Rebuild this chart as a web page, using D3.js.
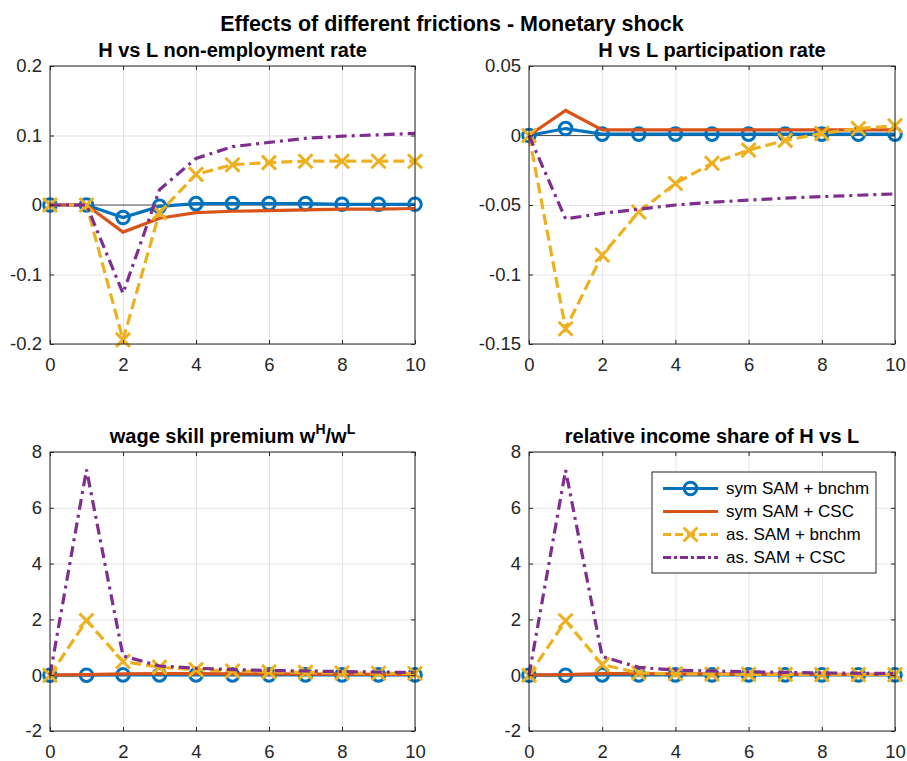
<!DOCTYPE html>
<html>
<head>
<meta charset="utf-8">
<script src="https://cdn.jsdelivr.net/npm/d3@7"></script>
<style>
body { margin: 0; background: #fff; }
svg text { font-family: "Liberation Sans", Arial, Helvetica, sans-serif; }
</style>
</head>
<body>
<script>
// horizon (quarters)
var periods = [0, 1, 2, 3, 4, 5, 6, 7, 8, 9, 10];
var xTicks = [0, 2, 4, 6, 8, 10];

var seriesNames = ["sym SAM + bnchm", "sym SAM + CSC", "as. SAM + bnchm", "as. SAM + CSC"];

// H vs L non-employment rate
var nonEmpSymBnchm = [0, 0, -0.018, -0.002, 0.002, 0.002, 0.002, 0.002, 0.001, 0.001, 0.001];
var nonEmpSymCsc   = [0, 0, -0.039, -0.019, -0.011, -0.009, -0.008, -0.007, -0.006, -0.006, -0.005];
var nonEmpAsBnchm  = [0, 0, -0.194, -0.011, 0.044, 0.058, 0.061, 0.063, 0.063, 0.063, 0.063];
var nonEmpAsCsc    = [0, 0, -0.127, 0.022, 0.067, 0.084, 0.090, 0.096, 0.099, 0.101, 0.103];
var nonEmpTicks = [-0.2, -0.1, 0, 0.1, 0.2];

// H vs L participation rate
var partSymBnchm = [0, 0.005, 0.001, 0.001, 0.001, 0.001, 0.001, 0.001, 0.001, 0.001, 0.001];
var partSymCsc   = [0, 0.018, 0.004, 0.004, 0.004, 0.004, 0.004, 0.004, 0.004, 0.004, 0.004];
var partAsBnchm  = [0, -0.139, -0.086, -0.055, -0.0345, -0.020, -0.0105, -0.0035, 0.0015, 0.005, 0.007];
var partAsCsc    = [0, -0.060, -0.056, -0.053, -0.050, -0.048, -0.0465, -0.045, -0.044, -0.043, -0.042];
var partTicks = [-0.15, -0.1, -0.05, 0, 0.05];

// wage skill premium wH/wL
var wageSymBnchm = [0, 0, 0.01, 0.01, 0.01, 0.01, 0.01, 0.01, 0.01, 0.01, 0.01];
var wageSymCsc   = [0, 0.02, 0.05, 0.06, 0.06, 0.05, 0.05, 0.04, 0.04, 0.03, 0.03];
var wageAsBnchm  = [0, 1.96, 0.49, 0.29, 0.2, 0.15, 0.12, 0.1, 0.08, 0.07, 0.06];
var wageAsCsc    = [0, 7.37, 0.69, 0.33, 0.25, 0.2, 0.17, 0.15, 0.13, 0.11, 0.1];
var wageTicks = [-2, 0, 2, 4, 6, 8];

// relative income share of H vs L
var incSymBnchm = [0, 0, 0.01, 0.01, 0.01, 0.01, 0.01, 0.01, 0.01, 0.01, 0.01];
var incSymCsc   = [0, 0.02, 0.06, 0.06, 0.05, 0.05, 0.04, 0.04, 0.03, 0.03, 0.03];
var incAsBnchm  = [0, 1.95, 0.38, 0.08, 0.05, 0.04, 0.03, 0.03, 0.02, 0.02, 0.02];
var incAsCsc    = [0, 7.35, 0.67, 0.28, 0.18, 0.15, 0.12, 0.1, 0.08, 0.07, 0.06];
var incTicks = [-2, 0, 2, 4, 6, 8];

// matlab default colour order + line specs ("-o", "-", "--x", "-.")
var styles = [
	{ color: "#0072BD", dash: null, marker: "o" },
	{ color: "#D95319", dash: null, marker: null },
	{ color: "#EDB120", dash: "11,5", marker: "x" },
	{ color: "#7E2F8E", dash: "11,5,3,5", marker: null }
];

var W = 907, H = 761;
var svg = d3.select("body").append("svg").attr("width", W).attr("height", H);

var panels = [
	{ title: ["H vs L non-employment rate"], box: [50, 415, 66, 344], ticks: nonEmpTicks,
	  data: [nonEmpSymBnchm, nonEmpSymCsc, nonEmpAsBnchm, nonEmpAsCsc], tb: 57 },
	{ title: ["H vs L participation rate"], box: [529, 895, 66, 344], ticks: partTicks,
	  data: [partSymBnchm, partSymCsc, partAsBnchm, partAsCsc], tb: 57 },
	{ title: ["wage skill premium w", "H", "/w", "L"], box: [50, 415, 452, 731], ticks: wageTicks,
	  data: [wageSymBnchm, wageSymCsc, wageAsBnchm, wageAsCsc], tb: 443 },
	{ title: ["relative income share of H vs L"], box: [529, 895, 452, 731], ticks: incTicks,
	  data: [incSymBnchm, incSymCsc, incAsBnchm, incAsCsc], tb: 443, legend: true }
];

function fmt(d) { return d === 0 ? "0" : String(+d.toFixed(3)); }

function drawMarker(g, type, x, y, color) {
	if (type === "o") {
		g.append("circle").attr("cx", x).attr("cy", y).attr("r", 6.3)
			.attr("fill", "none").attr("stroke", color).attr("stroke-width", 3);
	} else if (type === "x") {
		var s = 7;
		g.append("path").attr("d", "M" + (x - s) + "," + (y - s) + "L" + (x + s) + "," + (y + s) +
			"M" + (x - s) + "," + (y + s) + "L" + (x + s) + "," + (y - s))
			.attr("stroke", color).attr("stroke-width", 3).attr("fill", "none");
	}
}

panels.forEach(function(p) {
	var b = p.box;
	var x = d3.scaleLinear().domain([0, 10]).range([b[0], b[1]]);
	var y = d3.scaleLinear().domain([p.ticks[0], p.ticks[p.ticks.length - 1]]).range([b[3], b[2]]);
	var g = svg.append("g");
	var w = b[1] - b[0], h = b[3] - b[2];

	// grid
	g.append("g").attr("transform", "translate(0," + b[3] + ")")
		.call(d3.axisBottom(x).tickValues(xTicks).tickSize(-h).tickFormat(""))
		.call(function(a) { a.select(".domain").remove(); a.selectAll("line").attr("stroke", "#e3e3e3"); });
	g.append("g").attr("transform", "translate(" + b[0] + ",0)")
		.call(d3.axisLeft(y).tickValues(p.ticks).tickSize(-w).tickFormat(""))
		.call(function(a) { a.select(".domain").remove(); a.selectAll("line").attr("stroke", "#e3e3e3"); });

	// zero reference line
	g.append("line").attr("x1", x(0)).attr("x2", x(10)).attr("y1", y(0)).attr("y2", y(0))
		.attr("stroke", "#555").attr("stroke-width", 1.2);

	// series
	var line = d3.line().x(function(d, i) { return x(periods[i]); }).y(function(d) { return y(d); });
	p.data.forEach(function(vals, k) {
		var st = styles[k];
		g.append("path").attr("d", line(vals)).attr("fill", "none")
			.attr("stroke", st.color).attr("stroke-width", 3.2)
			.attr("stroke-dasharray", st.dash);
		if (st.marker) {
			vals.forEach(function(v, i) { drawMarker(g, st.marker, x(periods[i]), y(v), st.color); });
		}
	});

	// box + inward ticks on all sides
	g.append("rect").attr("x", b[0]).attr("y", b[2]).attr("width", w).attr("height", h)
		.attr("fill", "none").attr("stroke", "#262626").attr("stroke-width", 1);
	var axStyle = function(a) {
		a.select(".domain").remove();
		a.selectAll("line").attr("stroke", "#262626");
		a.selectAll("text").attr("fill", "#262626").style("font-size", "18.5px");
	};
	g.append("g").attr("transform", "translate(0," + b[3] + ")")
		.call(d3.axisBottom(x).tickValues(xTicks).tickSize(-4).tickPadding(14).tickFormat(fmt)).call(axStyle);
	g.append("g").attr("transform", "translate(0," + b[2] + ")")
		.call(d3.axisTop(x).tickValues(xTicks).tickSize(-4).tickFormat("")).call(axStyle);
	g.append("g").attr("transform", "translate(" + b[0] + ",0)")
		.call(d3.axisLeft(y).tickValues(p.ticks).tickSize(-4).tickPadding(8).tickFormat(fmt)).call(axStyle);
	g.append("g").attr("transform", "translate(" + b[1] + ",0)")
		.call(d3.axisRight(y).tickValues(p.ticks).tickSize(-4).tickFormat("")).call(axStyle);

	// title (with superscripts for the wage panel)
	var t = g.append("text").attr("x", (b[0] + b[1]) / 2).attr("y", p.tb)
		.attr("text-anchor", "middle").style("font-size", "20px").style("font-weight", "bold")
		.attr("fill", "#000");
	p.title.forEach(function(s, i) {
		var sp = t.append("tspan").text(s);
		if (i % 2 === 1) sp.attr("dy", -9).style("font-size", "14px");
		else if (i > 0) sp.attr("dy", 9);
	});

	if (p.legend) {
		var lg = svg.append("g");
		lg.append("rect").attr("x", 652).attr("y", 472).attr("width", 224).attr("height", 101)
			.attr("fill", "#fff").attr("stroke", "#262626").attr("stroke-width", 1);
		seriesNames.forEach(function(name, k) {
			var st = styles[k], yy = 488.5 + k * 23;
			lg.append("line").attr("x1", 663).attr("x2", 718).attr("y1", yy).attr("y2", yy)
				.attr("stroke", st.color).attr("stroke-width", 3.2)
				.attr("stroke-dasharray", st.dash ? (k === 2 ? "8,4" : "8,3,3,3") : null);
			if (st.marker) drawMarker(lg, st.marker, 690.5, yy, st.color);
			lg.append("text").attr("x", 726).attr("y", yy).attr("dy", "0.35em")
				.style("font-size", "17px").attr("fill", "#000").text(name);
		});
	}
});

svg.append("text").attr("x", 452).attr("y", 31).attr("text-anchor", "middle")
	.style("font-size", "21.5px").style("font-weight", "bold").attr("fill", "#000")
	.text("Effects of different frictions - Monetary shock");
</script>
</body>
</html>
